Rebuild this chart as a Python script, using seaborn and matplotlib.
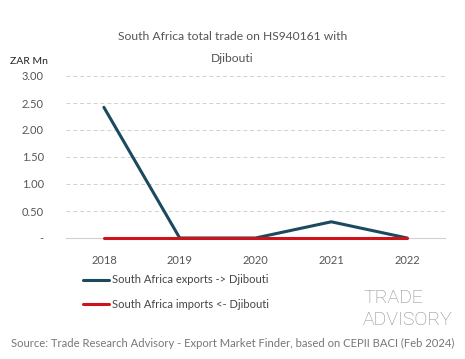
import numpy as np
import pandas as pd
import matplotlib.pyplot as plt
import seaborn as sns

years = ['2018', '2019', '2020', '2021', '2022']
exports = [2.42, 0.0, 0.0, 0.30, 0.0]
imports = [0.0, 0.0, 0.0, 0.0, 0.0]

df = pd.DataFrame({'Year': years, 'Exports': exports, 'Imports': imports})
df['pos'] = np.arange(len(years))

sns.set_style('white')
plt.rcParams['font.family'] = ['Lato', 'DejaVu Sans']

fig = plt.figure(figsize=(4.65, 3.59), dpi=100)
ax = fig.add_axes([66 / 465, 1 - 238 / 359, (445 - 66) / 465, (238 - 76) / 359])

sns.lineplot(data=df, x='pos', y='Exports', ax=ax, color='#1b4a5e', linewidth=2.2,
             label='South Africa exports -> Djibouti', clip_on=False, zorder=3)
sns.lineplot(data=df, x='pos', y='Imports', ax=ax, color='#d0121b', linewidth=2.2,
             label='South Africa imports <- Djibouti', clip_on=False, zorder=4)

ax.set_xlim(-0.5, 4.5)
ax.set_ylim(0, 3.0)
ax.set_xticks(df['pos'])
ax.set_xticklabels(years)
ax.set_yticks([0, 0.5, 1.0, 1.5, 2.0, 2.5, 3.0])
ax.set_yticklabels(['-', '0.50', '1.00', '1.50', '2.00', '2.50', '3.00'])
ax.tick_params(axis='both', labelsize=8, colors='#555555', length=0)
ax.tick_params(axis='x', pad=12)
ax.tick_params(axis='y', pad=16)
ax.grid(axis='y', color='#d0d0d0', linestyle=(0, (4, 3)), linewidth=0.7)
ax.set_axisbelow(True)
for s in ['top', 'right', 'left']:
    ax.spines[s].set_visible(False)
ax.spines['bottom'].set_color('#d0d0d0')
ax.spines['bottom'].set_linewidth(0.8)
ax.spines['bottom'].set_zorder(1)
ax.set_xlabel('')
ax.set_ylabel('')

ax.legend(loc='upper left', bbox_to_anchor=(0.019, -0.163),
          frameon=False, fontsize=8, labelcolor='#444444', handlelength=2.3,
          labelspacing=1.25, handletextpad=0.3)

fig.text(0.5, 1 - 37 / 359, 'South Africa total trade on HS940161 with', ha='center',
         va='center', fontsize=8.7, color='#555555')
fig.text(0.5, 1 - 59 / 359, 'Djibouti', ha='center', va='center', fontsize=8.7, color='#555555')
fig.text(10 / 465, 1 - 61 / 359, 'ZAR Mn', ha='left', va='center', fontsize=7.5, color='#222222')
fig.text(0.5, 1 - 343 / 359,
         'Source: Trade Research Advisory - Export Market Finder, based on CEPII BACI (Feb 2024)',
         ha='center', va='center', fontsize=8.1, color='#777777')
fig.text(363 / 465, 1 - 298 / 359, 'TRADE', ha='left', va='center', fontsize=14,
         color='#8a8a8a', fontweight='light', family=['Roboto', 'DejaVu Sans'])
fig.text(363 / 465, 1 - 320 / 359, 'ADVISORY', ha='left', va='center', fontsize=14,
         color='#8a8a8a', fontweight='light', family=['Roboto', 'DejaVu Sans'])

fig.savefig('out.png', dpi=100)
